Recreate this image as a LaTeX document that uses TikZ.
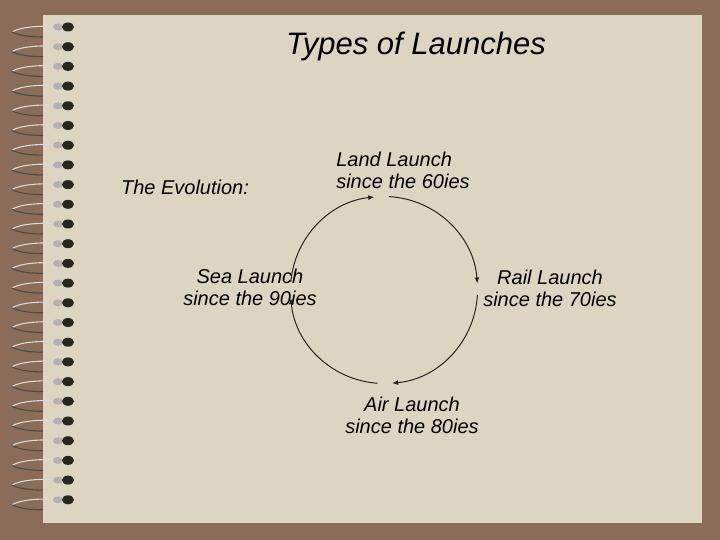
\documentclass[tikz,border=0pt]{standalone}
\usepackage{fontspec}
\setmainfont{Liberation Sans}
\usetikzlibrary{arrows.meta}
\definecolor{binder}{RGB}{139,108,88}
\definecolor{paper}{RGB}{221,213,194}
\definecolor{hole}{RGB}{40,38,32}
\tikzset{lbl/.style={font=\itshape\fontsize{20}{22}\selectfont, align=center, inner sep=0pt}}
\begin{document}
\begin{tikzpicture}[x=1pt,y=1pt]
\path[use as bounding box] (0,0) rectangle (720,540);
\fill[binder] (0,0) rectangle (720,540);
\fill[paper] (43,17) rectangle (702,525);
\foreach \k in {0,...,24}{
\pgfmathsetmacro{\yy}{513-19.7*\k}
\draw[gray!30, line width=1.1pt] (64,\yy) .. controls (40,\yy+2) and (20,\yy) .. (12,\yy-5);
\draw[black!70, line width=1.1pt] (12,\yy-5) .. controls (20,\yy-9) and (32,\yy-10) .. (43,\yy-10);
\fill[gray!60] (58,\yy) ellipse (5 and 3.5);
\fill[hole] (68,\yy) ellipse (6 and 4.5);
}
\coordinate (c) at (384,250);
\foreach \s/\e in {175/96, 87/4, -3/-85, -94/-175}
\draw[-{Latex[length=6pt,width=5pt]}, line width=1pt, black!85] ([shift={(\s:93.5)}]c) arc[start angle=\s, end angle=\e, radius=93.5];
\node[font=\itshape\fontsize{31}{35}\selectfont] (title) at (416,494) {Types of Launches};
\node[lbl] (evol) at (185,353) {The Evolution:};
\node[lbl, align=left] (land) at (403,370) {Land Launch\\since the 60ies};
\node[lbl] (rail) at (550,252) {Rail Launch\\since the 70ies};
\node[lbl] (air) at (412,125) {Air Launch\\since the 80ies};
\node[lbl] (sea) at (250,253) {Sea Launch\\since the 90ies};
\end{tikzpicture}
\end{document}
